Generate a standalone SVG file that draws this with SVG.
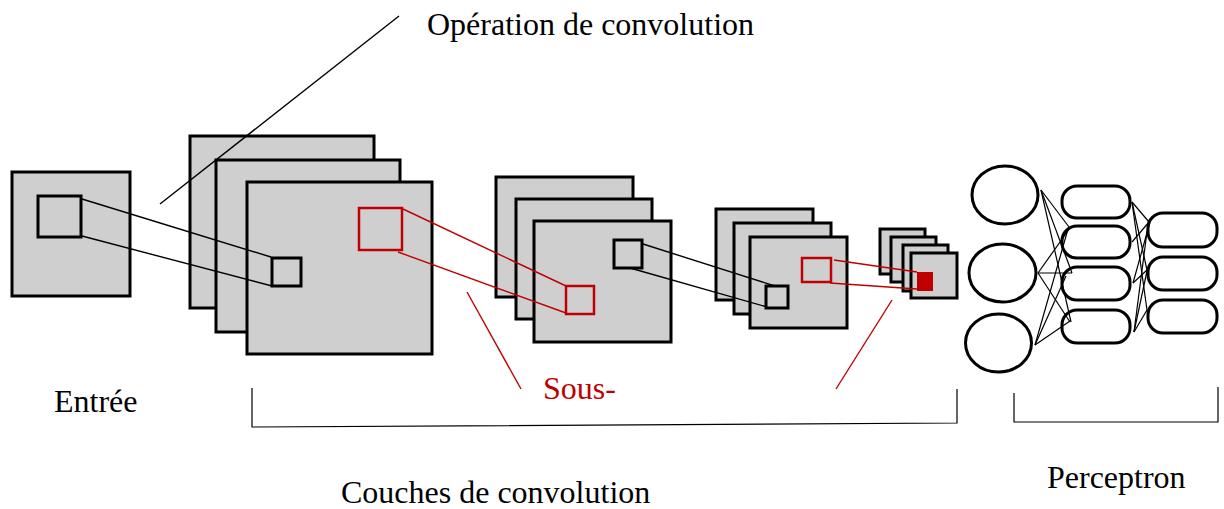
<svg xmlns="http://www.w3.org/2000/svg" width="1224" height="509" viewBox="0 0 1224 509">
  <style>
    .map { fill: #d0cfd0; stroke: #000; stroke-width: 3; }
    .win { fill: none; stroke: #000; stroke-width: 3; }
    .win-red { fill: none; stroke: #c00000; stroke-width: 2.5; }
    .ln { fill: none; stroke: #000; stroke-width: 1.4; }
    .ln-red { fill: none; stroke: #c00000; stroke-width: 1.4; }
    .neuron { fill: #fff; stroke: #000; stroke-width: 3; }
    .thin { fill: none; stroke: #000; stroke-width: 1.2; }
    .lbl { font-family: "Liberation Serif", "Times New Roman", serif; font-size: 32px; fill: #000; }
    .lbl-red { fill: #c00000; }
  </style>

  <rect width="1224" height="509" fill="#fff"/>

  <!-- input image with its receptive window -->
  <g id="input">
    <rect class="map" x="12" y="172" width="118" height="124"/>
    <rect class="win" x="38" y="196" width="43" height="41"/>
  </g>

  <!-- first convolution layer: three feature maps -->
  <g id="conv1">
    <rect class="map" x="190" y="136" width="184" height="172"/>
    <rect class="map" x="216" y="160" width="184" height="172"/>
    <rect class="map" x="247" y="182" width="185" height="172"/>
    <rect class="win" x="272" y="258" width="29" height="28"/>
    <rect class="win-red" x="359" y="208" width="43" height="42"/>
  </g>

  <!-- second layer -->
  <g id="conv2">
    <rect class="map" x="496" y="177" width="137" height="120"/>
    <rect class="map" x="516" y="199" width="136" height="120"/>
    <rect class="map" x="534" y="221" width="137" height="121"/>
    <rect class="win-red" x="566" y="286" width="28" height="28"/>
    <rect class="win" x="614" y="240" width="28" height="28"/>
  </g>

  <!-- third layer -->
  <g id="conv3">
    <rect class="map" x="716" y="209" width="97" height="91"/>
    <rect class="map" x="734" y="223" width="97" height="91"/>
    <rect class="map" x="750" y="237" width="97" height="91"/>
    <rect class="win" x="766" y="286" width="22" height="22"/>
    <rect class="win-red" x="802" y="258" width="29" height="24"/>
  </g>

  <!-- fourth layer -->
  <g id="conv4">
    <rect class="map" x="880" y="229" width="45" height="45"/>
    <rect class="map" x="891" y="237" width="45" height="45"/>
    <rect class="map" x="903" y="245" width="45" height="46"/>
    <rect class="map" x="911" y="253" width="46" height="45"/>
    <rect x="917" y="272" width="16" height="19" fill="#c00000"/>
  </g>

  <!-- perceptron: input neurons -->
  <g id="perceptron-in">
    <ellipse class="neuron" cx="1005" cy="195" rx="33" ry="29"/>
    <ellipse class="neuron" cx="1002.5" cy="273" rx="33.5" ry="29"/>
    <ellipse class="neuron" cx="998.5" cy="343" rx="33" ry="29"/>
  </g>

  <!-- perceptron: hidden units -->
  <g id="perceptron-hidden">
    <rect class="neuron" x="1062" y="186" width="68" height="32" rx="15"/>
    <rect class="neuron" x="1062" y="226" width="68" height="32" rx="15"/>
    <rect class="neuron" x="1062" y="267" width="68" height="33" rx="15"/>
    <rect class="neuron" x="1062" y="310" width="68" height="33" rx="15"/>
  </g>

  <!-- perceptron: output units -->
  <g id="perceptron-out">
    <rect class="neuron" x="1148" y="213" width="69" height="34" rx="15"/>
    <rect class="neuron" x="1148" y="257" width="69" height="33" rx="15"/>
    <rect class="neuron" x="1148" y="300" width="69" height="33" rx="15"/>
  </g>

  <g id="connectors">
    <!-- projection of windows between layers -->
    <line class="ln" x1="82" y1="199" x2="271" y2="257"/>
    <line class="ln" x1="82" y1="236" x2="272" y2="286"/>
    <line class="ln-red" x1="403" y1="209" x2="566" y2="286"/>
    <line class="ln-red" x1="398" y1="252" x2="566" y2="313"/>
    <line class="ln" x1="643" y1="244" x2="775" y2="286"/>
    <line class="ln" x1="630" y1="268" x2="767" y2="307"/>
    <line class="ln-red" x1="834" y1="260" x2="917" y2="272"/>
    <line class="ln-red" x1="830" y1="283" x2="917" y2="289"/>

    <!-- label pointers -->
    <line class="ln" x1="160" y1="204" x2="399" y2="16"/>
    <line class="ln-red" x1="467" y1="292" x2="521" y2="389"/>
    <line class="ln-red" x1="892" y1="300" x2="836" y2="389"/>

    <!-- perceptron links: inputs to hidden -->
    <g class="thin">
      <line x1="1041" y1="190" x2="1069" y2="227"/>
      <line x1="1041" y1="190" x2="1072" y2="273"/>
      <line x1="1041" y1="190" x2="1071" y2="322"/>
      <line x1="1038" y1="273" x2="1070" y2="228"/>
      <line x1="1038" y1="273" x2="1072" y2="273"/>
      <line x1="1038" y1="273" x2="1070" y2="322"/>
      <line x1="1035" y1="345" x2="1068" y2="229"/>
      <line x1="1035" y1="345" x2="1066" y2="276"/>
      <line x1="1035" y1="345" x2="1070" y2="321"/>
      <!-- hidden to outputs -->
      <line x1="1132" y1="202" x2="1149" y2="222"/>
      <line x1="1132" y1="202" x2="1147" y2="270"/>
      <line x1="1132" y1="202" x2="1147" y2="310"/>
      <line x1="1132" y1="242" x2="1149" y2="222"/>
      <line x1="1133" y1="283" x2="1150" y2="222"/>
      <line x1="1133" y1="283" x2="1147" y2="270"/>
      <line x1="1134" y1="332" x2="1148" y2="224"/>
      <line x1="1134" y1="332" x2="1147" y2="271"/>
      <line x1="1134" y1="332" x2="1147" y2="310"/>
    </g>

    <!-- brackets -->
    <polyline class="thin" points="252,388 252,427 957,423 957,389"/>
    <polyline class="thin" points="1014,393 1014,422 1218,422 1218,387"/>
  </g>

  <!-- labels -->
  <g id="labels">
    <text class="lbl" x="427" y="35">Opération de convolution</text>
    <text class="lbl" x="54" y="412">Entrée</text>
    <text class="lbl lbl-red" x="543" y="399">Sous-</text>
    <text class="lbl" x="341" y="503">Couches de convolution</text>
    <text class="lbl" x="1047" y="488">Perceptron</text>
  </g>
</svg>
